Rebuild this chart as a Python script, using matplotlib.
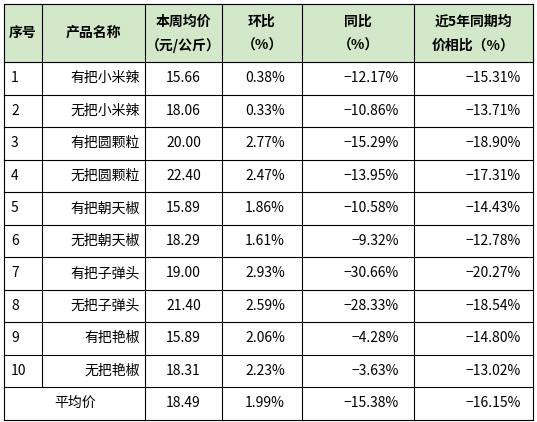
import matplotlib
matplotlib.use("Agg")
import matplotlib.pyplot as plt

plt.rcParams['font.family'] = ['Noto Sans CJK SC', 'DejaVu Sans']

headers = [["序号"], ["产品名称"], ["本周均价", "（元/公斤）"], ["环比", "（%）"], ["同比", "（%）"], ["近5年同期均", "价相比（%）"]]
ids = ["1", "2", "3", "4", "5", "6", "7", "8", "9", "10"]
names = ["有把小米辣", "无把小米辣", "有把圆颗粒", "无把圆颗粒", "有把朝天椒", "无把朝天椒", "有把子弹头", "无把子弹头", "有把艳椒", "无把艳椒"]
prices = ["15.66", "18.06", "20.00", "22.40", "15.89", "18.29", "19.00", "21.40", "15.89", "18.31"]
mom = ["0.38%", "0.33%", "2.77%", "2.47%", "1.86%", "1.61%", "2.93%", "2.59%", "2.06%", "2.23%"]
yoy = ["−12.17%", "−10.86%", "−15.29%", "−13.95%", "−10.58%", "−9.32%", "−30.66%", "−28.33%", "−4.28%", "−3.63%"]
five = ["−15.31%", "−13.71%", "−18.90%", "−17.31%", "−14.43%", "−12.78%", "−20.27%", "−18.54%", "−14.80%", "−13.02%"]
avg_label = "平均价"
avg_vals = ["18.49", "1.99%", "−15.38%", "−16.15%"]

W, H = 537, 422
fig = plt.figure(figsize=(W/100, H/100), dpi=100)
ax = fig.add_axes([0, 0, 1, 1])
ax.set_xlim(0, W); ax.set_ylim(H, 0); ax.axis('off')

xs = [4, 42, 145, 222, 302, 414, 533]
top, hh, rh = 4, 58, 32.5
ys = [top, top+hh] + [top+hh+rh*(i+1) for i in range(11)]
bottom = ys[-1]
ax.add_patch(plt.Rectangle((xs[0], top), xs[-1]-xs[0], hh, color='#d2e8c8', zorder=0))
lw = 0.8
for y in ys:
    ax.plot([xs[0], xs[-1]], [y, y], color='k', lw=lw)
for i, x in enumerate(xs):
    if i == 1:
        ax.plot([x, x], [top, ys[-2]], color='k', lw=lw)
    else:
        ax.plot([x, x], [top, bottom], color='k', lw=lw)

fs = 10
for c, h in enumerate(headers):
    cx = (xs[c]+xs[c+1])/2
    if len(h) == 1:
        ax.text(cx, top+hh/2, h[0], ha='center', va='center', fontsize=fs, fontweight='bold')
    else:
        ax.text(cx, top+hh*0.3, h[0], ha='center', va='center', fontsize=fs, fontweight='bold')
        ax.text(cx, top+hh*0.72, h[1], ha='center', va='center', fontsize=fs, fontweight='bold')

for r in range(10):
    cy = ys[r+1] + rh/2
    ax.text(xs[0]+7, cy, ids[r], ha='left', va='center', fontsize=fs)
    ax.text(xs[2]-5, cy, names[r], ha='right', va='center', fontsize=fs)
    ax.text((xs[2]+xs[3])/2, cy, prices[r], ha='center', va='center', fontsize=fs)
    ax.text(xs[4]-17, cy, mom[r], ha='right', va='center', fontsize=fs)
    ax.text(xs[5]-15, cy, yoy[r], ha='right', va='center', fontsize=fs)
    ax.text(xs[6]-12, cy, five[r], ha='right', va='center', fontsize=fs)
cy = ys[11] + rh/2
ax.text(75, cy, avg_label, ha='center', va='center', fontsize=fs)
ax.text((xs[2]+xs[3])/2, cy, avg_vals[0], ha='center', va='center', fontsize=fs)
ax.text(xs[4]-17, cy, avg_vals[1], ha='right', va='center', fontsize=fs)
ax.text(xs[5]-15, cy, avg_vals[2], ha='right', va='center', fontsize=fs)
ax.text(xs[6]-12, cy, avg_vals[3], ha='right', va='center', fontsize=fs)
fig.savefig("out.png", dpi=100)
